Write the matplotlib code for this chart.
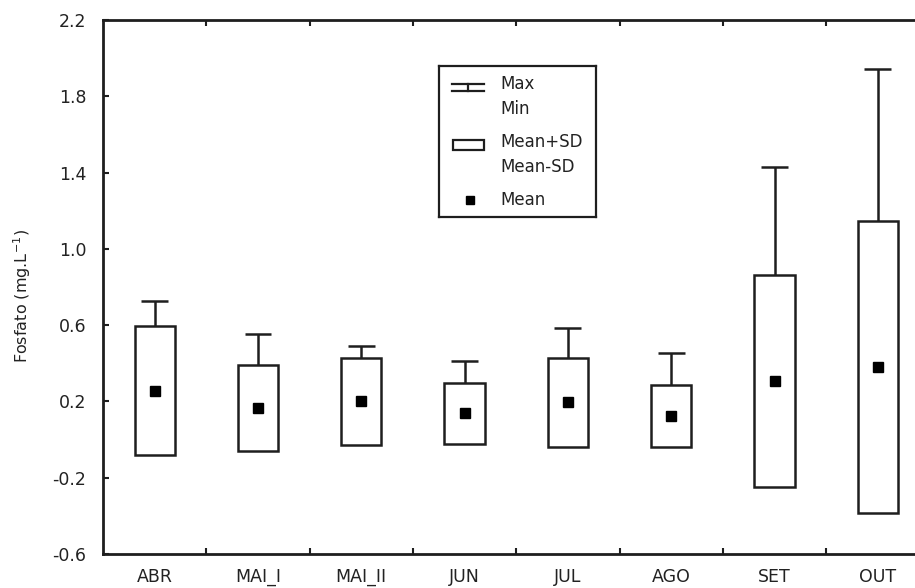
import matplotlib
matplotlib.use("Agg")
import matplotlib.pyplot as plt
import numpy as np
from matplotlib.patches import Rectangle
from matplotlib.ticker import FixedLocator, NullFormatter

categories = ["ABR", "MAI_I", "MAI_II", "JUN", "JUL", "AGO", "SET", "OUT"]
means = [0.255, 0.166, 0.200, 0.138, 0.196, 0.122, 0.307, 0.381]
sds = [0.338, 0.225, 0.230, 0.160, 0.234, 0.163, 0.556, 0.765]
maxs = [0.727, 0.554, 0.492, 0.410, 0.585, 0.452, 1.428, 1.945]
yticks = [-0.6, -0.2, 0.2, 0.6, 1.0, 1.4, 1.8, 2.2]

W, H = 915, 588
fig = plt.figure(figsize=(W / 100, H / 100), dpi=100)
fig.patch.set_facecolor("white")

ax_left, ax_right, ax_top, ax_bottom = 103, 929.5, 20, 554
ax = fig.add_axes([ax_left / W, 1 - ax_bottom / H, (ax_right - ax_left) / W, (ax_bottom - ax_top) / H])

dark = "#1e1e1e"
x = np.arange(len(categories))
means_a = np.array(means)
sds_a = np.array(sds)
maxs_a = np.array(maxs)
tops = means_a + sds_a
bottoms = means_a - sds_a

ax.bar(x, tops - bottoms, bottom=bottoms, width=0.39, fill=False,
       edgecolor=dark, linewidth=1.8, zorder=3)
ax.vlines(x, tops, maxs_a, color=dark, linewidth=1.8, zorder=3)
ax.hlines(maxs_a, x - 0.13, x + 0.13, color=dark, linewidth=1.8, zorder=3)
ax.plot(x, means_a, linestyle="none", marker="s", markersize=6.6,
        color="black", zorder=4)

ax.set_xlim(-0.5, len(categories) - 0.5)
ax.set_ylim(-0.6, 2.2)
ax.set_yticks(yticks)
ax.set_yticklabels([f"{v:.1f}" for v in yticks])
ax.set_xticks(x)
ax.set_xticklabels(categories)
ax.xaxis.set_minor_locator(FixedLocator(np.arange(0.5, len(categories) - 0.5, 1)))
ax.xaxis.set_minor_formatter(NullFormatter())

ax.tick_params(axis="x", which="major", length=0, pad=10, labelsize=12.5, labelcolor="#222222")
ax.tick_params(axis="x", which="minor", direction="in", length=4, width=1.5,
               color=dark, top=True, bottom=True)
ax.tick_params(axis="y", which="major", direction="in", length=4, width=1.5,
               color=dark, pad=12, labelsize=12.5, labelcolor="#222222")
for s in ax.spines.values():
    s.set_linewidth(2.0)
    s.set_color(dark)

ax.set_ylabel("Fosfato (mg.L$^{-1}$)", fontsize=11.5, color="#222222")
ax.yaxis.set_label_coords(-0.085, 0.483)

# Legend drawn in pixel-like coordinates
lx0, lx1, ly0, ly1 = 439, 596, 66, 217
lax = fig.add_axes([lx0 / W, 1 - ly1 / H, (lx1 - lx0) / W, (ly1 - ly0) / H])
lax.set_xlim(lx0, lx1)
lax.set_ylim(ly1, ly0)
lax.set_xticks([])
lax.set_yticks([])
for s in lax.spines.values():
    s.set_linewidth(1.6)
    s.set_color(dark)
lax.set_facecolor("white")
lax.plot([452, 484], [83.5, 83.5], color=dark, lw=1.6)
lax.plot([452, 484], [90.5, 90.5], color=dark, lw=1.6)
lax.plot([468, 468], [83.5, 90.5], color=dark, lw=1.6)
lax.add_patch(Rectangle((452.5, 139.5), 31.5, 10, fill=False, edgecolor=dark, lw=1.6))
lax.plot([469.5], [199.5], marker="s", markersize=6, color="black", linestyle="none")
fs = 12
for label, yy in [("Max", 84), ("Min", 109), ("Mean+SD", 142), ("Mean-SD", 167), ("Mean", 200)]:
    lax.text(500, yy, label, fontsize=fs, va="center", ha="left", color="#222222")

fig.savefig("out.png", dpi=100, facecolor="white")
